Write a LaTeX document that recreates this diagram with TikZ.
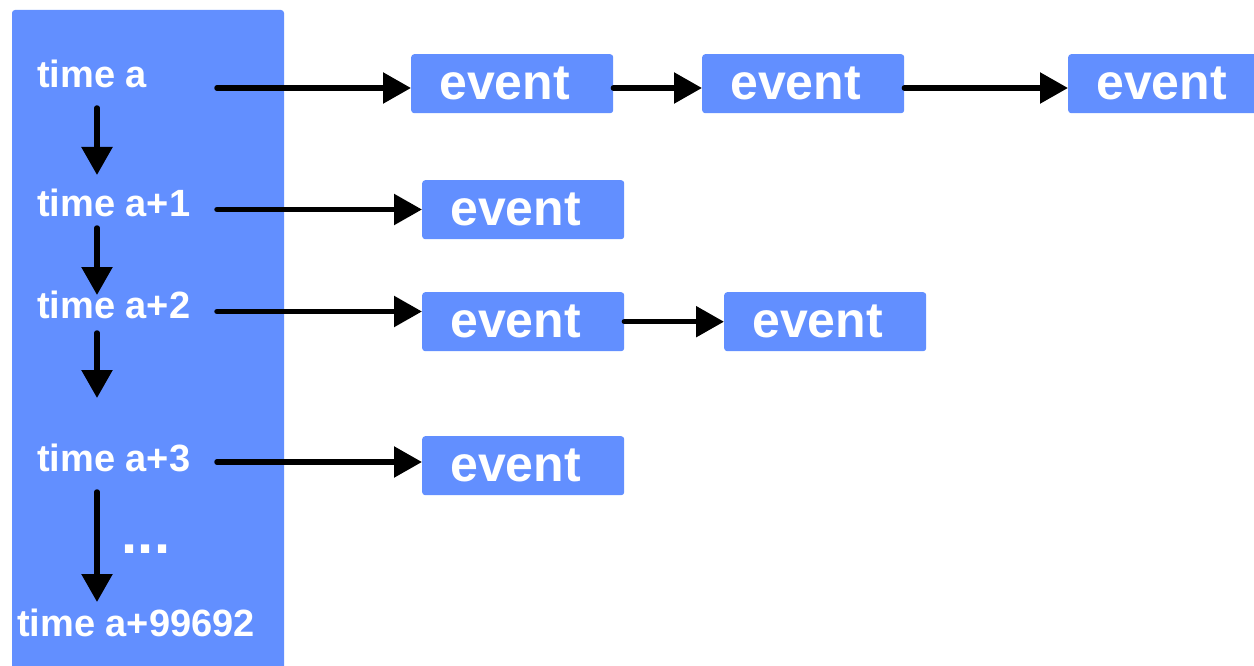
\documentclass[tikz,border=0pt]{standalone}
\usepackage{fontspec}
\setmainfont{Liberation Sans}
\usetikzlibrary{arrows.meta}
\definecolor{boxblue}{RGB}{98,143,255}
\begin{document}
\begin{tikzpicture}[x=1pt,y=-1pt,
  timelbl/.style={anchor=base west,inner sep=0pt,text=white,font=\fontsize{38}{42}\selectfont\bfseries},
  evbox/.style={anchor=north west,fill=boxblue,rounded corners=3pt,text=white,
    font=\fontsize{50}{55}\selectfont\bfseries,minimum height=59pt,
    text width=146pt,inner xsep=28pt,inner ysep=0pt,align=left},
  conn/.style={line width=5.5pt,line cap=round,-{Triangle[length=28pt,width=30pt]}}]
\useasboundingbox (0,0) rectangle (1254,666);
\clip (0,0) rectangle (1254,666);
% time column
\fill[boxblue,rounded corners=3pt] (12,700) -- (12,10) -- (284,10) -- (284,700) -- cycle;
% time labels
\node[timelbl] (t0) at (37,88) {time a};
\node[timelbl] (t1) at (37,216.5) {time a+1};
\node[timelbl] (t2) at (37,318) {time a+2};
\node[timelbl] (t3) at (37,471.5) {time a+3};
\node[timelbl] (t4) at (17,636) {time a+99692};
\node[inner sep=0pt,text=white,font=\fontsize{58}{62}\selectfont\bfseries] (dots) at (146,549.5) {...};
% event boxes
\node[evbox] (e01) at (411,54) {event};
\node[evbox] (e02) at (702,54) {event};
\node[evbox] (e03) at (1068,54) {event};
\node[evbox] (e11) at (422,180) {event};
\node[evbox] (e21) at (422,292) {event};
\node[evbox] (e22) at (724,292) {event};
\node[evbox] (e31) at (422,436) {event};
% arrow start points
\coordinate (s0) at (217,88);
\coordinate (s1) at (217,209.5);
\coordinate (s2) at (217,311.5);
\coordinate (s3) at (217,462);
\coordinate (v0a) at (97,108);  \coordinate (v0b) at (97,175);
\coordinate (v1a) at (97,228);  \coordinate (v1b) at (97,295);
\coordinate (v2a) at (97,333);  \coordinate (v2b) at (97,398);
\coordinate (v3a) at (97,492);  \coordinate (v3b) at (97,602);
% horizontal connectors
\draw[conn] (s0) -- (s0 -| e01.west);
\draw[conn] (e01.east |- s0) -- (s0 -| e02.west);
\draw[conn] (e02.east |- s0) -- (s0 -| e03.west);
\draw[conn] (s1) -- (s1 -| e11.west);
\draw[conn] (s2) -- (s2 -| e21.west);
\draw[conn] (e21.east) -- (e22.west);
\draw[conn] (s3) -- (s3 -| e31.west);
% vertical connectors
\draw[conn] (v0a) -- (v0b);
\draw[conn] (v1a) -- (v1b);
\draw[conn] (v2a) -- (v2b);
\draw[conn] (v3a) -- (v3b);
\end{tikzpicture}
\end{document}
